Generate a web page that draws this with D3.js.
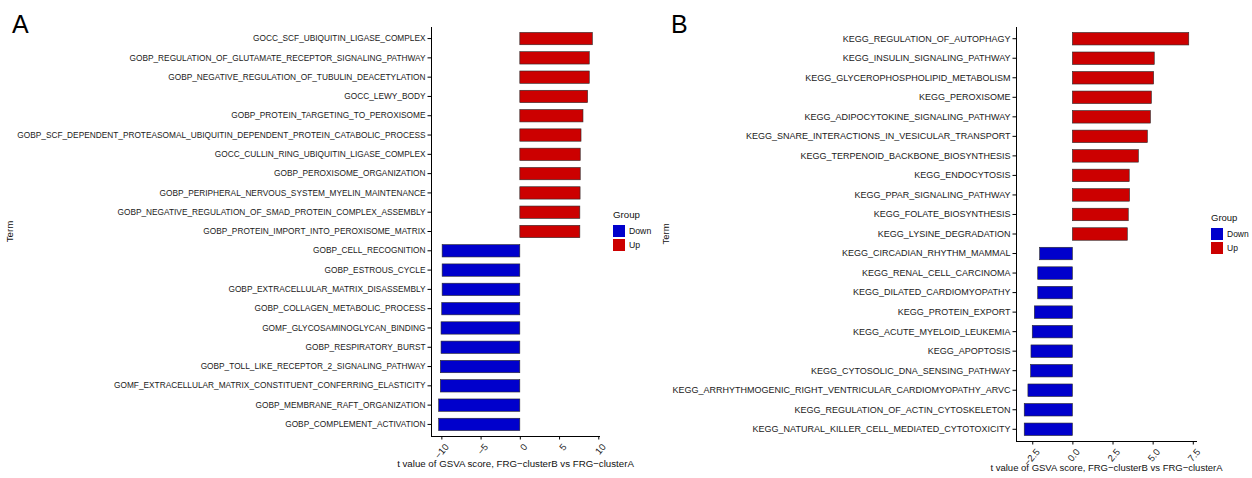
<!DOCTYPE html>
<html>
<head>
<meta charset="utf-8">
<script src="https://cdn.jsdelivr.net/npm/d3@7"></script>
<style>
    body { margin: 0; background: #fff; }
    svg { display: block; font-family: "Liberation Sans", Arial, sans-serif; }
</style>
</head>
<body>
<div id="chart"></div>
<script>
'use strict';

// panel A: GO terms, top to bottom
const termsA = [
    'GOCC_SCF_UBIQUITIN_LIGASE_COMPLEX',
    'GOBP_REGULATION_OF_GLUTAMATE_RECEPTOR_SIGNALING_PATHWAY',
    'GOBP_NEGATIVE_REGULATION_OF_TUBULIN_DEACETYLATION',
    'GOCC_LEWY_BODY',
    'GOBP_PROTEIN_TARGETING_TO_PEROXISOME',
    'GOBP_SCF_DEPENDENT_PROTEASOMAL_UBIQUITIN_DEPENDENT_PROTEIN_CATABOLIC_PROCESS',
    'GOCC_CULLIN_RING_UBIQUITIN_LIGASE_COMPLEX',
    'GOBP_PEROXISOME_ORGANIZATION',
    'GOBP_PERIPHERAL_NERVOUS_SYSTEM_MYELIN_MAINTENANCE',
    'GOBP_NEGATIVE_REGULATION_OF_SMAD_PROTEIN_COMPLEX_ASSEMBLY',
    'GOBP_PROTEIN_IMPORT_INTO_PEROXISOME_MATRIX',
    'GOBP_CELL_RECOGNITION',
    'GOBP_ESTROUS_CYCLE',
    'GOBP_EXTRACELLULAR_MATRIX_DISASSEMBLY',
    'GOBP_COLLAGEN_METABOLIC_PROCESS',
    'GOMF_GLYCOSAMINOGLYCAN_BINDING',
    'GOBP_RESPIRATORY_BURST',
    'GOBP_TOLL_LIKE_RECEPTOR_2_SIGNALING_PATHWAY',
    'GOMF_EXTRACELLULAR_MATRIX_CONSTITUENT_CONFERRING_ELASTICITY',
    'GOBP_MEMBRANE_RAFT_ORGANIZATION',
    'GOBP_COMPLEMENT_ACTIVATION'
];
const valuesA = [9.24, 8.85, 8.85, 8.64, 8.05, 7.8, 7.7, 7.7, 7.68, 7.65, 7.65,
    -9.9, -9.9, -9.9, -9.95, -10.04, -10.04, -10.13, -10.13, -10.34, -10.34];
const ticksA = [-10, -5, 0, 5, 10];

// panel B: KEGG pathways, top to bottom
const termsB = [
    'KEGG_REGULATION_OF_AUTOPHAGY',
    'KEGG_INSULIN_SIGNALING_PATHWAY',
    'KEGG_GLYCEROPHOSPHOLIPID_METABOLISM',
    'KEGG_PEROXISOME',
    'KEGG_ADIPOCYTOKINE_SIGNALING_PATHWAY',
    'KEGG_SNARE_INTERACTIONS_IN_VESICULAR_TRANSPORT',
    'KEGG_TERPENOID_BACKBONE_BIOSYNTHESIS',
    'KEGG_ENDOCYTOSIS',
    'KEGG_PPAR_SIGNALING_PATHWAY',
    'KEGG_FOLATE_BIOSYNTHESIS',
    'KEGG_LYSINE_DEGRADATION',
    'KEGG_CIRCADIAN_RHYTHM_MAMMAL',
    'KEGG_RENAL_CELL_CARCINOMA',
    'KEGG_DILATED_CARDIOMYOPATHY',
    'KEGG_PROTEIN_EXPORT',
    'KEGG_ACUTE_MYELOID_LEUKEMIA',
    'KEGG_APOPTOSIS',
    'KEGG_CYTOSOLIC_DNA_SENSING_PATHWAY',
    'KEGG_ARRHYTHMOGENIC_RIGHT_VENTRICULAR_CARDIOMYOPATHY_ARVC',
    'KEGG_REGULATION_OF_ACTIN_CYTOSKELETON',
    'KEGG_NATURAL_KILLER_CELL_MEDIATED_CYTOTOXICITY'
];
const valuesB = [7.25, 5.1, 5.06, 4.92, 4.86, 4.67, 4.11, 3.54, 3.56, 3.48, 3.42,
    -2.04, -2.16, -2.16, -2.37, -2.5, -2.58, -2.6, -2.77, -3.0, -3.0];
const ticksB = [-2.5, 0, 2.5, 5, 7.5];

const groups = ['Down', 'Up'];
const groupColors = ['#0000cc', '#cc0000'];

const width = 1252,
    height = 478,
    xTitle = 't value of GSVA score, FRG\u2212clusterB vs FRG\u2212clusterA',
    color = d3.scaleOrdinal().domain(groups).range(groupColors);

const svg = d3.select('#chart')
    .append('svg')
    .attr('width', width)
    .attr('height', height);

function drawPanel(p) {
    const rows = p.terms.map((t, i) => ({term: t, value: p.values[i]}));
    const ext = d3.extent(p.values),
        pad = (ext[1] - ext[0]) * 0.05;

    const x = d3.scaleLinear().domain([ext[0] - pad, ext[1] + pad]).range([p.left, p.right]);
    const y = d3.scaleBand().domain(p.terms).range([p.top, p.bottom])
        .paddingInner(0.36).paddingOuter(0.28);

    const g = svg.append('g');

    // panel letter
    g.append('text')
        .attr('x', p.letterX)
        .attr('y', 33)
        .style('font-size', '25px')
        .text(p.letter);

    // bars
    g.selectAll('rect.bar')
        .data(rows)
        .enter()
        .append('rect')
        .attr('class', 'bar')
        .attr('x', d => x(Math.min(0, d.value)))
        .attr('y', d => y(d.term))
        .attr('width', d => Math.abs(x(d.value) - x(0)))
        .attr('height', y.bandwidth())
        .attr('fill', d => color(d.value > 0 ? 'Up' : 'Down'))
        .attr('stroke', '#2a2a2a')
        .attr('stroke-width', 0.6);

    // y axis
    const yAxis = g.append('g')
        .attr('transform', 'translate(' + p.left + ',0)')
        .call(d3.axisLeft(y).tickSize(3.5).tickPadding(2).tickSizeOuter(0));
    yAxis.select('.domain').attr('d', 'M0.5,' + p.top + 'V' + p.bottom);
    yAxis.selectAll('text')
        .style('font-size', p.labelSize + 'px')
        .attr('fill', '#1a1a1a');

    // x axis
    const xAxis = g.append('g')
        .attr('transform', 'translate(0,' + p.bottom + ')')
        .call(d3.axisBottom(x).tickValues(p.ticks).tickFormat(p.format).tickSize(3.5).tickSizeOuter(0));
    xAxis.select('.domain').attr('d', 'M' + p.left + ',0.5H' + p.right);
    xAxis.selectAll('text')
        .attr('y', 0)
        .attr('dy', '0.35em')
        .attr('transform', 'translate(5,9) rotate(-50)')
        .style('text-anchor', 'end')
        .style('font-size', p.tickSize + 'px')
        .attr('fill', '#222');

    // axis titles
    g.append('text')
        .attr('x', (p.left + p.right) / 2)
        .attr('y', p.titleY)
        .attr('text-anchor', 'middle')
        .style('font-size', p.titleSize + 'px')
        .attr('fill', '#111')
        .text(xTitle);

    g.append('text')
        .attr('transform', 'translate(' + p.termX + ',' + (p.top + p.bottom) / 2 + ') rotate(-90)')
        .attr('text-anchor', 'middle')
        .style('font-size', p.titleSize + 'px')
        .attr('fill', '#111')
        .text('Term');

    // legend
    const lg = g.append('g').attr('transform', 'translate(' + p.legendX + ',' + p.legendY + ')');
    lg.append('text')
        .attr('y', 0)
        .attr('dy', '0.35em')
        .style('font-size', p.titleSize + 'px')
        .attr('fill', '#111')
        .text('Group');
    const items = lg.selectAll('g.item')
        .data(groups)
        .enter()
        .append('g')
        .attr('class', 'item')
        .attr('transform', (d, i) => 'translate(0,' + (10 + i * 14) + ')');
    items.append('rect')
        .attr('width', 12)
        .attr('height', 12)
        .attr('fill', d => color(d));
    items.append('text')
        .attr('x', 16)
        .attr('y', 6)
        .attr('dy', '0.35em')
        .style('font-size', (p.titleSize - 1) + 'px')
        .attr('fill', '#111')
        .text(d => d);
}

drawPanel({
    letter: 'A', letterX: 12,
    terms: termsA, values: valuesA, ticks: ticksA, format: d3.format('d'),
    left: 431, right: 600, top: 27, bottom: 436,
    labelSize: 8.3, tickSize: 9.5, titleSize: 9.7,
    titleY: 467, termX: 13,
    legendX: 613, legendY: 215
});

drawPanel({
    letter: 'B', letterX: 671,
    terms: termsB, values: valuesB, ticks: ticksB, format: d3.format('.1f'),
    left: 1016, right: 1197, top: 27, bottom: 441,
    labelSize: 9, tickSize: 9.5, titleSize: 9.5,
    titleY: 471, termX: 669,
    legendX: 1211, legendY: 218
});
</script>
</body>
</html>
